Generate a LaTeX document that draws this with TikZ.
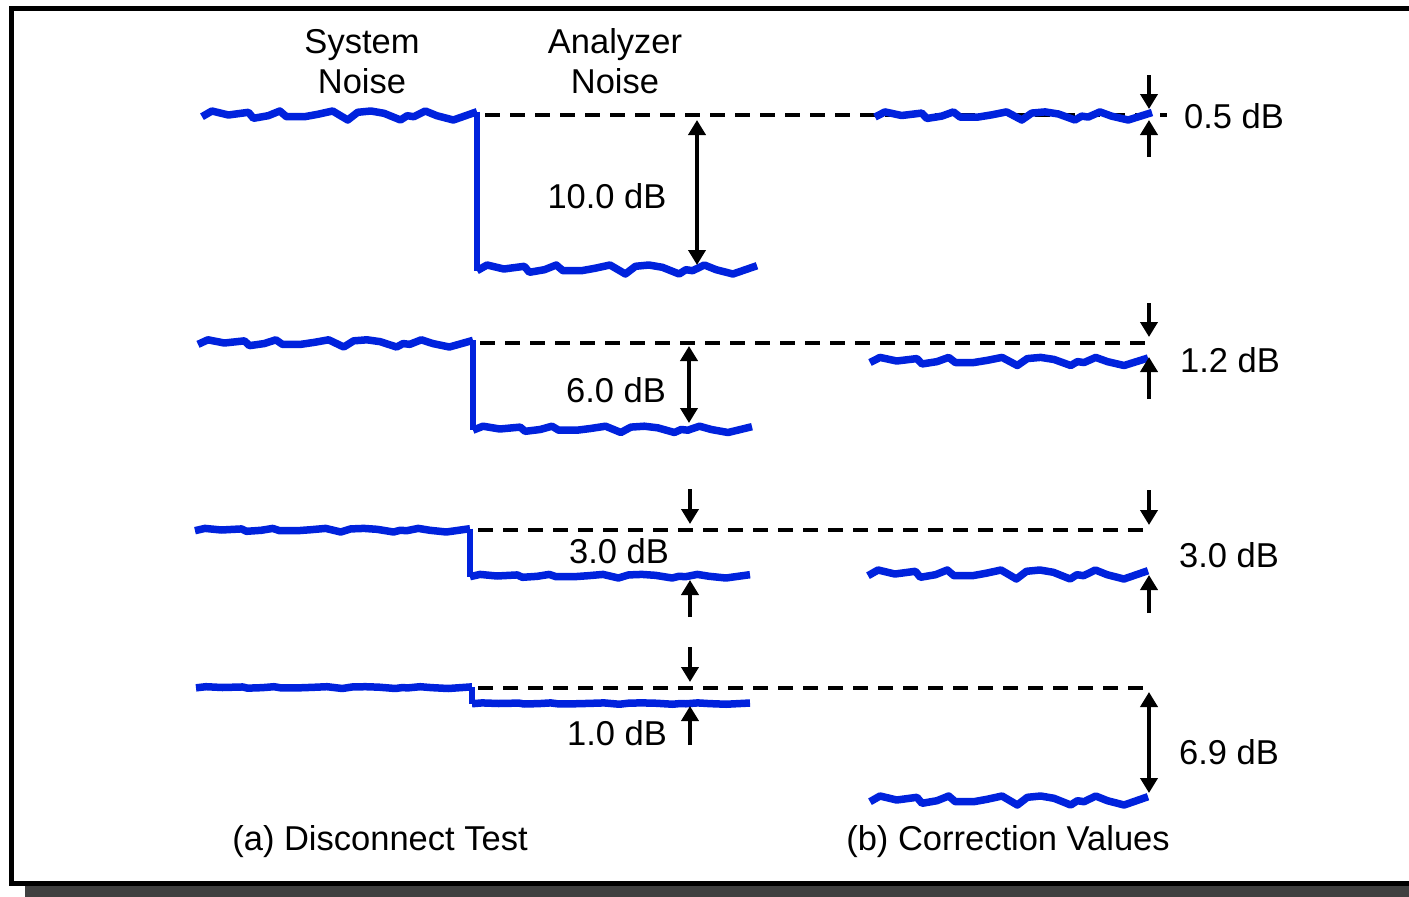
\documentclass[tikz,border=0pt]{standalone}
\usepackage{fontspec}
\setmainfont{Liberation Sans}
\usetikzlibrary{arrows.meta}
\definecolor{noiseblue}{RGB}{0,34,221}
\definecolor{shadowgray}{RGB}{64,64,64}
\newcommand\noisepts{(0,1.7)--(0.036,-4)--(0.096,0)--(0.169,-2.7)--(0.187,3.3)--(0.241,0.7)--(0.283,-4)--(0.307,1.7)--(0.373,1.7)--(0.421,-0.7)--(0.475,-4)--(0.530,5)--(0.566,-2.7)--(0.614,-4)--(0.662,-1.7)--(0.722,5)--(0.746,0.7)--(0.770,1.7)--(0.812,-4)--(0.854,0.7)--(0.914,5)--(1,-3.3)}
\newcommand\noiseline[4]{% x0, x1, y0, amplitude
  \begin{scope}[shift={(#1,#3)},xscale=#2-#1,yscale=#4]
    \draw[noise] \noisepts;
  \end{scope}}
\tikzset{
  noise/.style={draw=noiseblue,line width=7.5pt,line join=round},
  stepline/.style={draw=noiseblue,line width=5.5pt},
  refline/.style={draw=black,line width=4pt,dash pattern=on 15pt off 10pt},
  dimarrow/.style={draw=black,line width=4pt,-{Triangle[length=15pt,width=17pt]}},
  dimboth/.style={draw=black,line width=4pt,{Triangle[length=15pt,width=17pt]}-{Triangle[length=15pt,width=17pt]}},
  lbl/.style={font=\fontsize{34.5}{40}\selectfont,anchor=base,inner sep=0pt},
}
\begin{document}
\begin{tikzpicture}[x=1pt,y=-1pt]
\useasboundingbox (0,0) rectangle (1409,897);
% frame with shadow
\fill[shadowgray] (25,20) rectangle (1430,897);
\draw[fill=white,line width=5pt] (11,8) rectangle (1430,883);

% headers
\node[lbl] (sysA) at (362,53) {System};
\node[lbl] (sysB) at (362,93) {Noise};
\node[lbl] (anaA) at (615,53) {Analyzer};
\node[lbl] (anaB) at (615,93) {Noise};

% ---------- row 1 ----------
\draw[refline] (485,115) -- (1167,115);
\noiseline{202}{477}{115}{1}
\noiseline{477}{757}{269}{1}
\draw[stepline] (477,111.7) -- (477,270.7);
\noiseline{875}{1152}{115.5}{0.9}
\coordinate (r1a) at (697,120); \coordinate (r1b) at (697,265);
\draw[dimboth] (r1a) -- (r1b);
\node[lbl] (l1) at (607,208) {10.0 dB};
\coordinate (r1c) at (1149,75); \coordinate (r1d) at (1149,109);
\coordinate (r1e) at (1149,157); \coordinate (r1f) at (1149,120);
\draw[dimarrow] (r1c) -- (r1d);
\draw[dimarrow] (r1e) -- (r1f);
\node[lbl] (rl1) at (1234,128) {0.5 dB};

% ---------- row 2 ----------
\draw[refline] (480,343) -- (1145,343);
\noiseline{198}{473}{343}{0.8}
\noiseline{473}{752}{429}{0.7}
\draw[stepline] (473,340.4) -- (473,430.2);
\noiseline{870}{1148}{361}{0.9}
\coordinate (r2a) at (689,346); \coordinate (r2b) at (689,423);
\draw[dimboth] (r2a) -- (r2b);
\node[lbl] (l2) at (616,402) {6.0 dB};
\coordinate (r2c) at (1149,303); \coordinate (r2d) at (1149,337);
\coordinate (r2e) at (1149,399); \coordinate (r2f) at (1149,357);
\draw[dimarrow] (r2c) -- (r2d);
\draw[dimarrow] (r2e) -- (r2f);
\node[lbl] (rl2) at (1230,372) {1.2 dB};

% ---------- row 3 ----------
\draw[refline] (478,530) -- (1145,530);
\noiseline{195}{470}{530}{0.4}
\noiseline{470}{750}{576}{0.4}
\draw[stepline] (470,528.7) -- (470,576.7);
\noiseline{868}{1148}{574}{1}
\coordinate (r3a) at (690,489); \coordinate (r3b) at (690,524);
\coordinate (r3c) at (690,617); \coordinate (r3d) at (690,580);
\draw[dimarrow] (r3a) -- (r3b);
\draw[dimarrow] (r3c) -- (r3d);
\node[lbl] (l3) at (619,563) {3.0 dB};
\coordinate (r3e) at (1149,490); \coordinate (r3f) at (1149,525);
\coordinate (r3g) at (1149,613); \coordinate (r3h) at (1149,575);
\draw[dimarrow] (r3e) -- (r3f);
\draw[dimarrow] (r3g) -- (r3h);
\node[lbl] (rl3) at (1229,567) {3.0 dB};

% ---------- row 4 ----------
\draw[refline] (478,688) -- (1145,688);
\noiseline{196}{472}{687.5}{0.2}
\noiseline{472}{750}{703.5}{0.15}
\draw[stepline] (472,686.8) -- (472,704);
\noiseline{870}{1148}{800}{1}
\coordinate (r4a) at (690,647); \coordinate (r4b) at (690,682);
\coordinate (r4c) at (690,745); \coordinate (r4d) at (690,706);
\draw[dimarrow] (r4a) -- (r4b);
\draw[dimarrow] (r4c) -- (r4d);
\node[lbl] (l4) at (617,745) {1.0 dB};
\coordinate (r4e) at (1149,692); \coordinate (r4f) at (1149,793);
\draw[dimboth] (r4e) -- (r4f);
\node[lbl] (rl4) at (1229,764) {6.9 dB};

% captions
\node[lbl] (capA) at (380,850) {(a) Disconnect Test};
\node[lbl] (capB) at (1008,850) {(b) Correction Values};
\end{tikzpicture}
\end{document}
